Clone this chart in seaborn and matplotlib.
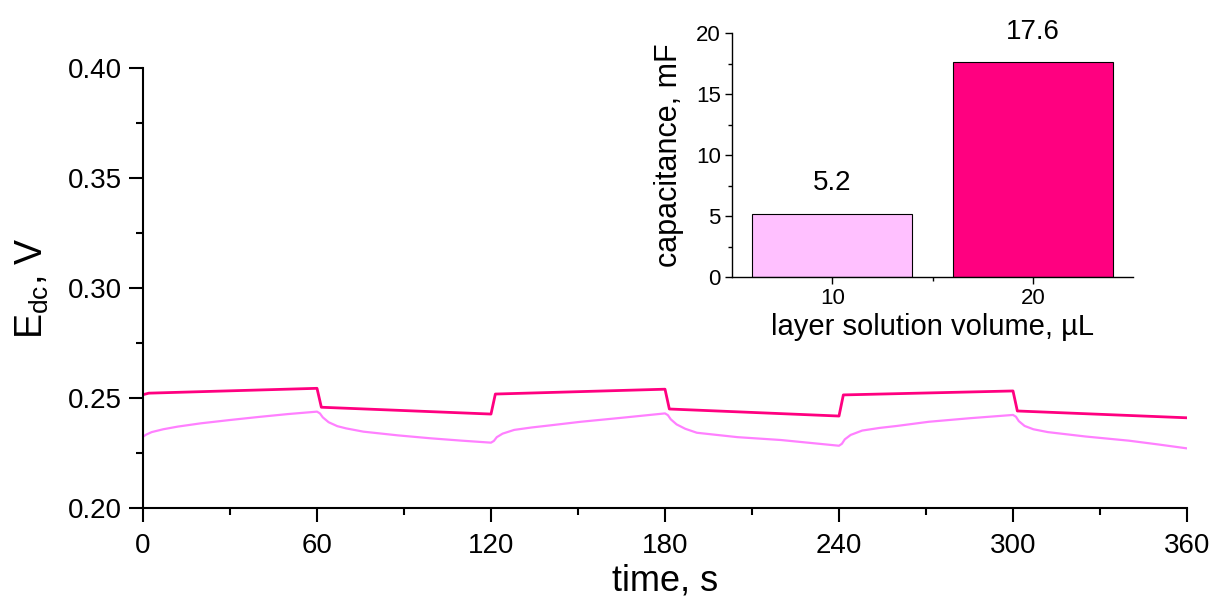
import numpy as np
import pandas as pd
import matplotlib
matplotlib.use("Agg")
import matplotlib.pyplot as plt
from matplotlib.ticker import MultipleLocator
import seaborn as sns

# ---- data ----
t_light = [0, 1, 3, 7, 12, 20, 30, 40, 50, 60,
           61, 62, 64, 67, 70, 76, 88, 99, 110, 120,
           121, 122, 124, 128, 134, 140, 151, 165, 180,
           181, 182, 184, 187, 191, 205, 220, 230, 240,
           241, 242, 244, 248, 254, 260, 271, 285, 300,
           301, 302, 304, 307, 312, 325, 340, 350, 360]
e_light = [0.2324, 0.2333, 0.2345, 0.2358, 0.2370, 0.2385, 0.2400, 0.2414, 0.2427, 0.2438,
           0.2430, 0.2412, 0.2390, 0.2372, 0.2362, 0.2347, 0.2330, 0.2317, 0.2306, 0.2297,
           0.2305, 0.2322, 0.2338, 0.2355, 0.2366, 0.2375, 0.2392, 0.2410, 0.2430,
           0.2422, 0.2403, 0.2380, 0.2360, 0.2342, 0.2322, 0.2309, 0.2296, 0.2283,
           0.2292, 0.2312, 0.2332, 0.2352, 0.2364, 0.2373, 0.2392, 0.2408, 0.2423,
           0.2415, 0.2395, 0.2373, 0.2358, 0.2345, 0.2325, 0.2306, 0.2289, 0.2271]

t_dark = [0, 2, 60, 61.5, 120, 121.5, 180, 181.5, 240, 241.5, 300, 301.5, 360]
e_dark = [0.2515, 0.2522, 0.2544, 0.2458, 0.2427, 0.2518, 0.2540, 0.2450,
          0.2418, 0.2514, 0.2532, 0.2441, 0.2410]

volumes = ["10", "20"]
capacitance = [5.2, 17.6]
bar_labels = ["5.2", "17.6"]

x_ticks = [0, 60, 120, 180, 240, 300, 360]
y_ticks = [0.20, 0.25, 0.30, 0.35, 0.40]
inset_yticks = [0, 5, 10, 15, 20]

c_light = "#FF80FF"
c_dark = "#FF0080"
c_bar_light = "#FFC0FF"

sns.set_style("ticks")
plt.rcParams["font.family"] = ["Liberation Sans", "DejaVu Sans"]
plt.rcParams["mathtext.default"] = "regular"
plt.rcParams["text.color"] = "black"
plt.rcParams["axes.labelcolor"] = "black"
plt.rcParams["xtick.color"] = "black"
plt.rcParams["ytick.color"] = "black"

fig = plt.figure(figsize=(12.15, 5.97), dpi=100)
ax = fig.add_axes([143/1215, 1-508/597, (1187-143)/1215, (508-68)/597])

df_l = pd.DataFrame({"t": t_light, "E": e_light})
df_d = pd.DataFrame({"t": t_dark, "E": e_dark})
sns.lineplot(data=df_l, x="t", y="E", ax=ax, color=c_light, lw=1.6, sort=False)
sns.lineplot(data=df_d, x="t", y="E", ax=ax, color=c_dark, lw=2.0, sort=False)

ax.set_xlim(0, 360)
ax.set_ylim(0.20, 0.40)
ax.set_xticks(x_ticks)
ax.set_xticklabels([str(v) for v in x_ticks])
ax.set_yticks(y_ticks)
ax.set_yticklabels([f"{v:.2f}" for v in y_ticks])
ax.xaxis.set_minor_locator(MultipleLocator(30))
ax.yaxis.set_minor_locator(MultipleLocator(0.025))
for s in ["top", "right"]:
    ax.spines[s].set_visible(False)
for s in ["left", "bottom"]:
    ax.spines[s].set_linewidth(1.5)
    ax.spines[s].set_color("black")
ax.tick_params(which="major", direction="out", length=10, width=1.5, labelsize=20, pad=5)
ax.tick_params(axis="x", which="major", pad=8)
ax.tick_params(which="minor", direction="out", length=5, width=1.5)
ax.set_xlabel("time, s", fontsize=26, labelpad=3)
ax.set_ylabel("E$_{dc}$, V", fontsize=27, labelpad=12)

# ---- inset ----
ins = fig.add_axes([732/1215, 1-277/597, (1133-732)/1215, (277-33)/597])
df_b = pd.DataFrame({"vol": volumes, "cap": capacitance})
sns.barplot(data=df_b, x="vol", y="cap", hue="vol", palette=[c_bar_light, c_dark],
            legend=False, ax=ins, width=0.8, edgecolor="black", linewidth=0.8,
            saturation=1)
ins.set_xlim(-0.5, 1.5)
ins.set_ylim(0, 20)
ins.set_yticks(inset_yticks)
ins.yaxis.set_minor_locator(MultipleLocator(2.5))
ins.set_xticks([0.5], minor=True)
for s in ["top", "right"]:
    ins.spines[s].set_visible(False)
for s in ["left", "bottom"]:
    ins.spines[s].set_linewidth(1.0)
    ins.spines[s].set_color("black")
ins.tick_params(which="major", direction="out", length=5, width=1.0, labelsize=16, pad=3)
ins.tick_params(which="minor", direction="out", length=3, width=1.0)
ins.set_xlabel("layer solution volume, µL", fontsize=21, labelpad=3)
ins.set_ylabel("capacitance, mF", fontsize=22, labelpad=9)
ins.patch.set_alpha(0)
for i, (v, lab) in enumerate(zip(capacitance, bar_labels)):
    ins.annotate(lab, xy=(i, v), xytext=(0, 17), textcoords="offset points",
                 ha="center", va="baseline", fontsize=20)

fig.savefig("out.png", dpi=100, facecolor="white")
